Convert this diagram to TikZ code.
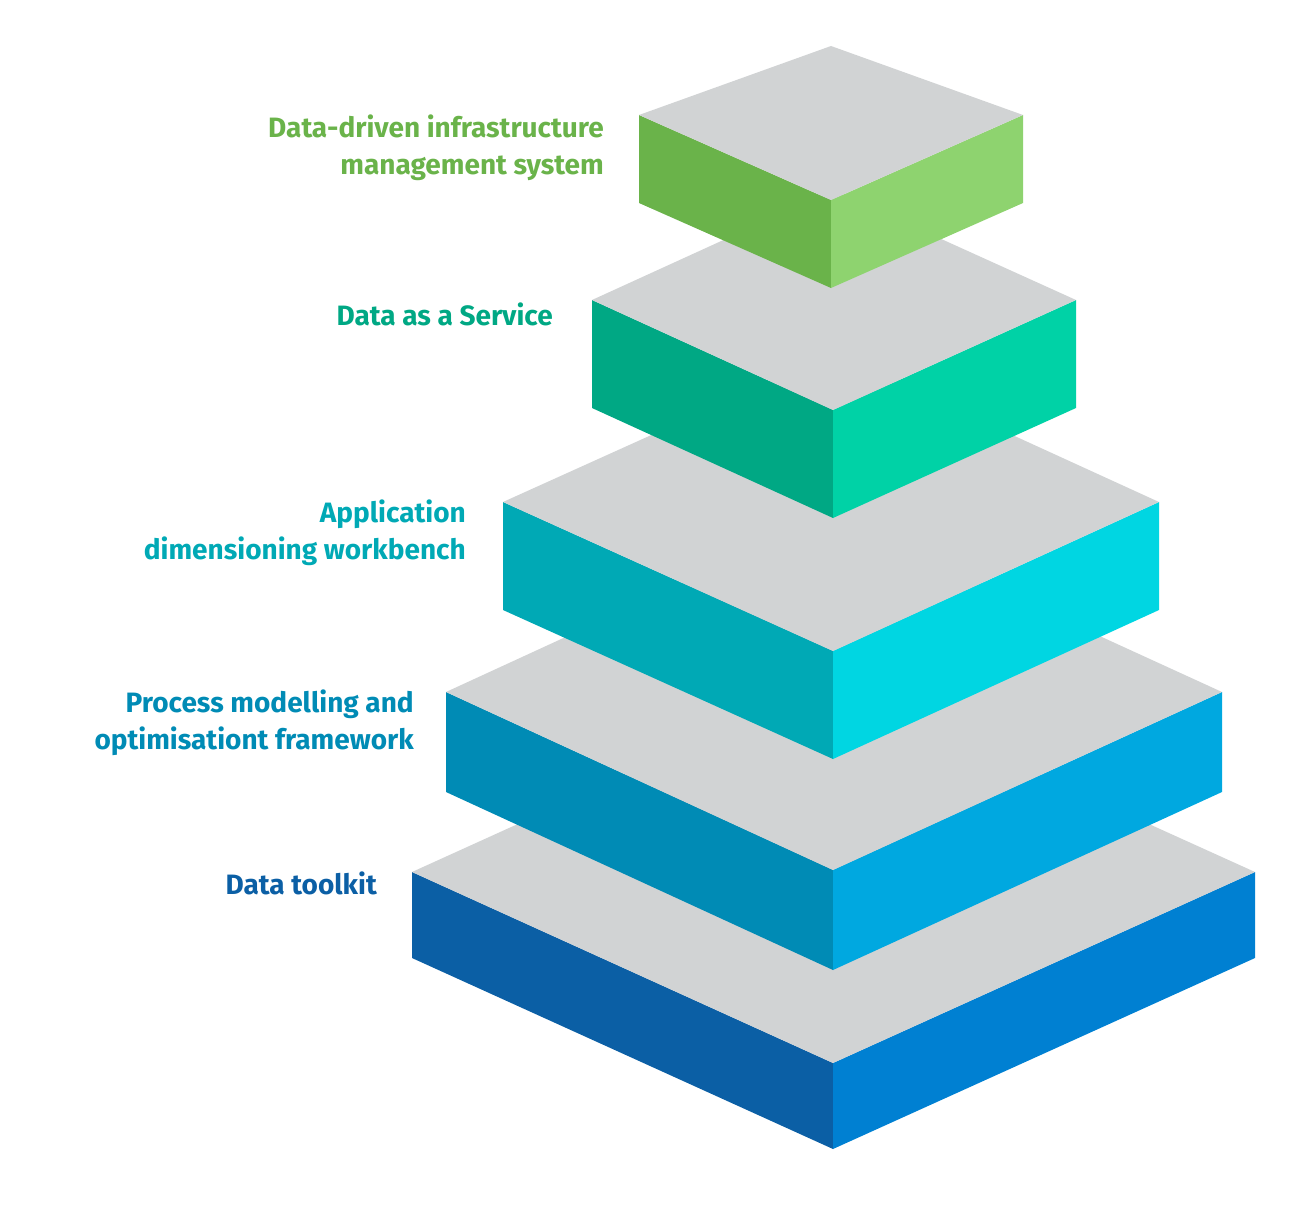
\documentclass[tikz,border=0pt]{standalone}
\usepackage{fontspec}
\setmainfont{Fira Sans}
\definecolor{topg}{HTML}{D1D3D4}
\definecolor{l1a}{HTML}{6AB34A}\definecolor{l1b}{HTML}{8ED36F}
\definecolor{l2a}{HTML}{00A884}\definecolor{l2b}{HTML}{00D2A6}
\definecolor{l3a}{HTML}{00A9B5}\definecolor{l3b}{HTML}{00D6E2}
\definecolor{l4a}{HTML}{008BB5}\definecolor{l4b}{HTML}{00A8E0}
\definecolor{l5a}{HTML}{0B5FA5}\definecolor{l5b}{HTML}{0080D2}
\tikzset{lab/.style={align=right,anchor=east,inner sep=0pt,font=\fontsize{28}{37}\selectfont\bfseries}}
% \layer{left x}{left y}{front x}{front y}{right x}{right y}{back y}{height}{colA}{colB}
\newcommand\mylayer[9]{%
  \fill[#8] (#1,#2) -- (#3,#4) -- (#3,#4+#7) -- (#1,#2+#7) -- cycle;
  \fill[#9] (#3,#4) -- (#5,#2) -- (#5,#2+#7) -- (#3,#4+#7) -- cycle;
  \fill[topg] (#1,#2) -- (#3,#4) -- (#5,#2) -- (#3,#6) -- cycle;}
\begin{document}
\begin{tikzpicture}[x=1pt,y=-1pt]
\useasboundingbox (0,0) rectangle (1315,1217);
\mylayer{412}{872}{833}{1063}{1255}{681}{86}{l5a}{l5b}
\mylayer{446}{692}{833}{870}{1222}{514}{100}{l4a}{l4b}
\mylayer{503}{502}{833}{651}{1159}{353}{108}{l3a}{l3b}
\mylayer{592}{300}{833}{410}{1076}{190}{108}{l2a}{l2b}
\mylayer{639}{115}{831}{200}{1023}{46}{88}{l1a}{l1b}
\node[lab,text=l1a] (t1) at (604,148) {Data-driven infrastructure\\management system};
\node[lab,text=l2a] (t2) at (553,314) {Data as a Service};
\node[lab,text=l3a] (t3) at (466,533) {Application\\dimensioning workbench};
\node[lab,text=l4a] (t4) at (414,723) {Process modelling and\\optimisationt framework};
\node[lab,text=l5a] (t5) at (377,883) {Data toolkit};
\end{tikzpicture}
\end{document}
